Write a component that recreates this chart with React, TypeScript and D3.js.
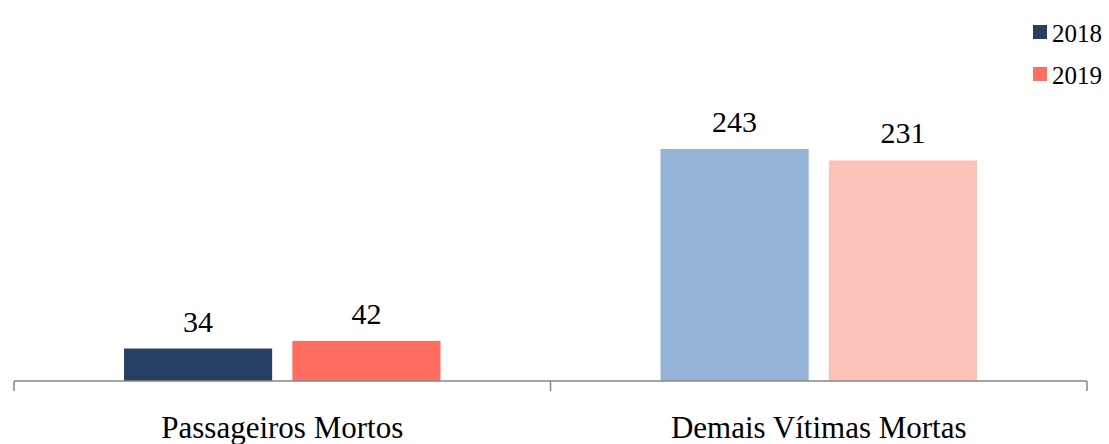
import React, { useEffect, useRef } from 'react';
import * as d3 from 'd3';

const categories = ['Passageiros Mortos', 'Demais Vítimas Mortas'];
const series = ['2018', '2019'];
const values2018 = [34, 243];
const values2019 = [42, 231];
// per-category fills: first group solid, second group light
const colors2018 = ['#264064', '#95b3d7'];
const colors2019 = ['#ff6f61', '#fcc1b9'];
const legendColors = ['#264064', '#ff6f61'];

const App: React.FC = () => {
  const svgRef = useRef<SVGSVGElement>(null);

  useEffect(() => {
    if (!svgRef.current) return;
    const width = 1109;
    const height = 444;
    const font = "'Liberation Serif', 'Times New Roman', serif";

    const svg = d3.select(svgRef.current)
      .attr('width', width)
      .attr('height', height);
    svg.selectAll('*').remove();

    const axisY = 381;
    const x0 = d3.scaleBand<string>()
      .domain(categories)
      .range([14, 1087]);

    const x1 = d3.scaleBand<string>()
      .domain(series)
      .range([110, 426.5])
      .paddingInner(0.12);

    const y = d3.scaleLinear()
      .domain([0, 243])
      .range([axisY, 149]);

    const data = categories.map((c, i) => ({
      category: c,
      items: [
        { key: series[0], value: values2018[i], color: colors2018[i] },
        { key: series[1], value: values2019[i], color: colors2019[i] }
      ]
    }));

    const groups = svg.selectAll('.group')
      .data(data)
      .enter()
      .append('g')
      .attr('class', 'group')
      .attr('transform', d => `translate(${x0(d.category)},0)`);

    groups.selectAll('rect')
      .data(d => d.items)
      .enter()
      .append('rect')
      .attr('x', d => x1(d.key)!)
      .attr('y', d => y(d.value))
      .attr('width', x1.bandwidth())
      .attr('height', d => axisY - y(d.value))
      .attr('fill', d => d.color);

    groups.selectAll('.val')
      .data(d => d.items)
      .enter()
      .append('text')
      .attr('class', 'val')
      .attr('x', d => x1(d.key)! + x1.bandwidth() / 2)
      .attr('y', d => y(d.value) - 17)
      .attr('text-anchor', 'middle')
      .attr('font-family', font)
      .attr('font-size', '30px')
      .attr('fill', '#000')
      .text(d => d.value);

    // Category axis with tick marks at band edges
    const axis = svg.append('g');
    axis.append('line')
      .attr('x1', x0.range()[0])
      .attr('x2', x0.range()[1])
      .attr('y1', axisY)
      .attr('y2', axisY)
      .attr('stroke', '#868686')
      .attr('stroke-width', 1.5);

    const edges = [...categories.map(c => x0(c)!), x0.range()[1]];
    axis.selectAll('.tick')
      .data(edges)
      .enter()
      .append('line')
      .attr('x1', d => d)
      .attr('x2', d => d)
      .attr('y1', axisY)
      .attr('y2', axisY + 10)
      .attr('stroke', '#868686')
      .attr('stroke-width', 1.5);

    axis.selectAll('.cat')
      .data(categories)
      .enter()
      .append('text')
      .attr('x', d => x0(d)! + x1.range()[0] + (x1.range()[1] - x1.range()[0]) / 2)
      .attr('y', 438)
      .attr('text-anchor', 'middle')
      .attr('font-family', font)
      .attr('font-size', '31px')
      .attr('fill', '#000')
      .text(d => d);

    // Legend
    const legend = svg.append('g');
    series.forEach((s, i) => {
      const ly = 25 + i * 42;
      legend.append('rect')
        .attr('x', 1033)
        .attr('y', ly)
        .attr('width', 14)
        .attr('height', 14)
        .attr('fill', legendColors[i]);
      legend.append('text')
        .attr('x', 1052)
        .attr('y', ly + 17)
        .attr('font-family', font)
        .attr('font-size', '25px')
        .attr('fill', '#000')
        .text(s);
    });
  }, []);

  return (
    <svg ref={svgRef} style={{ position: 'absolute', left: 0, top: 0, background: '#fff' }}></svg>
  );
};

export default App;
